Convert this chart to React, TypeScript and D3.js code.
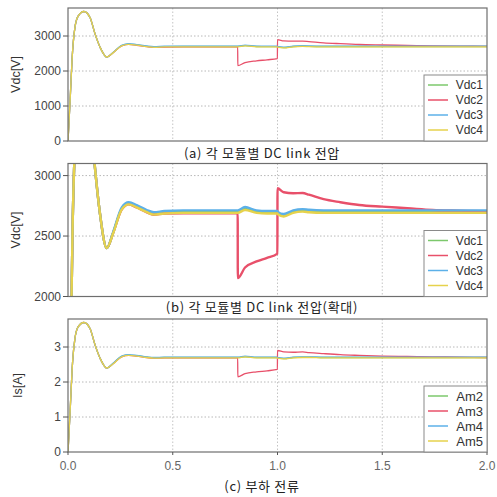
import React from 'react';
import * as d3 from 'd3';

// sample times [s], shared by every trace
const time = [0, 0.01, 0.022, 0.033, 0.049, 0.076, 0.105, 0.129, 0.153, 0.185, 0.216, 0.256, 0.29, 0.328, 0.376, 0.41, 0.46, 0.55, 0.7, 0.81, 0.8105, 0.845, 0.9, 0.95, 0.9995, 1.0, 1.03, 1.075, 1.12, 1.15, 1.22, 1.3, 1.39, 1.5, 1.62, 1.74, 1.87, 2.0];

// DC link voltages [V]
const vdc1 = [0, 1160, 2580, 3240, 3575, 3700, 3530, 3060, 2680, 2400, 2530, 2725, 2770, 2745, 2705, 2685, 2695, 2700, 2700, 2700, 2700, 2725, 2700, 2695, 2695, 2690, 2670, 2700, 2710, 2705, 2700, 2700, 2700, 2700, 2700, 2700, 2700, 2700];
const vdc2 = [0, 1160, 2580, 3240, 3575, 3700, 3530, 3060, 2680, 2400, 2528, 2718, 2762, 2736, 2696, 2676, 2686, 2689, 2689, 2689, 2152, 2240, 2290, 2320, 2355, 2895, 2862, 2854, 2856, 2842, 2805, 2780, 2757, 2743, 2730, 2716, 2710, 2705];
const vdc3 = [0, 1160, 2580, 3240, 3575, 3700, 3530, 3060, 2680, 2400, 2535, 2735, 2780, 2755, 2715, 2697, 2707, 2712, 2712, 2712, 2712, 2740, 2712, 2707, 2707, 2702, 2682, 2712, 2722, 2717, 2712, 2712, 2712, 2712, 2712, 2712, 2712, 2712];
const vdc4 = [0, 1160, 2580, 3240, 3575, 3700, 3530, 3060, 2680, 2400, 2525, 2718, 2762, 2737, 2697, 2677, 2687, 2692, 2692, 2692, 2692, 2716, 2692, 2687, 2687, 2682, 2662, 2692, 2702, 2697, 2692, 2692, 2692, 2692, 2692, 2692, 2692, 2692];

// load currents [A]
const am2 = [0, 1.16, 2.58, 3.24, 3.58, 3.7, 3.53, 3.06, 2.68, 2.4, 2.53, 2.73, 2.77, 2.75, 2.71, 2.69, 2.7, 2.7, 2.7, 2.7, 2.7, 2.72, 2.7, 2.7, 2.7, 2.69, 2.67, 2.7, 2.71, 2.71, 2.7, 2.7, 2.7, 2.7, 2.7, 2.7, 2.7, 2.7];
const am3 = [0, 1.16, 2.58, 3.24, 3.58, 3.7, 3.53, 3.06, 2.68, 2.4, 2.53, 2.72, 2.76, 2.74, 2.7, 2.68, 2.69, 2.69, 2.69, 2.69, 2.15, 2.24, 2.29, 2.32, 2.36, 2.9, 2.86, 2.85, 2.86, 2.84, 2.81, 2.78, 2.76, 2.74, 2.73, 2.72, 2.71, 2.7];
const am4 = [0, 1.16, 2.58, 3.24, 3.58, 3.7, 3.53, 3.06, 2.68, 2.4, 2.54, 2.74, 2.78, 2.76, 2.72, 2.7, 2.71, 2.71, 2.71, 2.71, 2.71, 2.74, 2.71, 2.71, 2.71, 2.7, 2.68, 2.71, 2.72, 2.72, 2.71, 2.71, 2.71, 2.71, 2.71, 2.71, 2.71, 2.71];
const am5 = [0, 1.16, 2.58, 3.24, 3.58, 3.7, 3.53, 3.06, 2.68, 2.4, 2.52, 2.72, 2.76, 2.74, 2.7, 2.68, 2.69, 2.69, 2.69, 2.69, 2.69, 2.72, 2.69, 2.69, 2.69, 2.68, 2.66, 2.69, 2.7, 2.7, 2.69, 2.69, 2.69, 2.69, 2.69, 2.69, 2.69, 2.69];

const xTicks = [0, 0.5, 1.0, 1.5, 2.0];
const vdcTicks = [0, 1000, 2000, 3000];
const vdcZoomTicks = [2000, 2500, 3000];
const isTicks = [0, 1, 2, 3];

const vdcNames = ['Vdc1', 'Vdc2', 'Vdc3', 'Vdc4'];
const ampNames = ['Am2', 'Am3', 'Am4', 'Am5'];
const colors = ['#7cc86c', '#e8506a', '#5cb0e8', '#e6d24c'];

const LEFT = 68;
const RIGHT = 487;
const H = 133;
const NUM_FONT = '"Liberation Sans", Arial, sans-serif';
const KR_FONT = '"Noto Sans CJK KR", "Liberation Sans", sans-serif';

function Panel(props: any) {
  const { id, top, yDomain, yTicks, series, names, label, caption, strokeWidth, showX, legendFont } = props;
  const x = d3.scaleLinear().domain([0, 2]).range([LEFT, RIGHT]);
  const y = d3.scaleLinear().domain(yDomain).range([top + H, top]);
  const line = d3.line<number>()
    .x((d, i) => x(time[i]))
    .y(d => y(d))
    .curve(d3.curveMonotoneX);

  const legW = 63;
  const rowH = 15;
  const legH = rowH * names.length + 6;
  const legX = RIGHT - legW;
  const legY = top + H - legH;

  return (
    <g>
      <defs>
        <clipPath id={id}>
          <rect x={LEFT} y={top} width={RIGHT - LEFT} height={H} />
        </clipPath>
      </defs>
      <rect x={LEFT} y={top} width={RIGHT - LEFT} height={H} fill="#fff" />
      {/* grid */}
      {xTicks.slice(1, -1).map(t => (
        <line key={'gx' + t} x1={x(t)} x2={x(t)} y1={top} y2={top + H}
          stroke="#c4c4c4" strokeDasharray="1.5,2" />
      ))}
      {yTicks.filter((t: number) => y(t) > top + 2 && y(t) < top + H - 2).map((t: number) => (
        <line key={'gy' + t} x1={LEFT} x2={RIGHT} y1={y(t)} y2={y(t)}
          stroke="#b8b8b8" strokeDasharray="1.5,2" />
      ))}
      {/* traces */}
      <g clipPath={`url(#${id})`}>
        {series.map((s: number[], i: number) => (
          <path key={i} d={line(s) || ''} fill="none" stroke={colors[i]}
            strokeWidth={strokeWidth} strokeLinejoin="round" />
        ))}
      </g>
      <rect x={LEFT} y={top} width={RIGHT - LEFT} height={H} fill="none" stroke="#6e6e6e" strokeWidth={1.2} />
      {/* y axis */}
      {yTicks.map((t: number) => (
        <g key={'yt' + t}>
          <line x1={LEFT - 5} x2={LEFT} y1={y(t)} y2={y(t)} stroke="#555" />
          <text x={LEFT - 7} y={y(t)} dy="0.35em" textAnchor="end" fontSize={12}
            fontFamily={NUM_FONT} fill="#444">{t}</text>
        </g>
      ))}
      <text transform={`translate(${label.x},${top + H / 2}) rotate(-90)`} textAnchor="middle"
        dy="0.35em" fontSize={12.5} fontFamily={NUM_FONT} fill="#333">{label.text}</text>
      {/* x axis */}
      {showX && xTicks.map(t => (
        <g key={'xt' + t}>
          <line x1={x(t)} x2={x(t)} y1={top + H} y2={top + H + 3} stroke="#555" />
          <text x={x(t)} y={top + H + 14} dy="0.35em" textAnchor="middle" fontSize={12}
            fontFamily={NUM_FONT} fill="#666">{d3.format('.1f')(t)}</text>
        </g>
      ))}
      {/* legend */}
      <rect x={legX} y={legY} width={legW} height={legH} fill="#fff" stroke="#8a8a8a" />
      {names.map((n: string, i: number) => {
        const ry = legY + 10 + i * rowH;
        return (
          <g key={n}>
            <line x1={legX + 4} x2={legX + 24} y1={ry} y2={ry} stroke={colors[i]} strokeWidth={1.5} />
            <text x={RIGHT - 4} y={ry} dy="0.35em" textAnchor="end" fontSize={legendFont}
              fontFamily={NUM_FONT} fill="#333">{n}</text>
          </g>
        );
      })}
      <text x={262} y={caption.y} dy="0.35em" textAnchor="middle" fontSize={13}
        letterSpacing={0.7} fontFamily={KR_FONT} fill="#222">{caption.text}</text>
    </g>
  );
}

export default function App() {
  return (
    <svg width={497} height={497} style={{ position: 'absolute', left: 0, top: 0, background: '#fff' }}>
      <rect width={497} height={497} fill="#fff" />
      <Panel id="clipA" top={8} yDomain={[0, 3800]} yTicks={vdcTicks}
        series={[vdc1, vdc2, vdc3, vdc4]} names={vdcNames}
        label={{ x: 16, text: 'Vdc[V]' }} caption={{ y: 153, text: '(a) 각 모듈별 DC link 전압' }}
        strokeWidth={1.3} showX={false} legendFont={12} />
      <Panel id="clipB" top={163.5} yDomain={[2000, 3100]} yTicks={vdcZoomTicks}
        series={[vdc1, vdc2, vdc3, vdc4]} names={vdcNames}
        label={{ x: 16, text: 'Vdc[V]' }} caption={{ y: 307, text: '(b) 각 모듈별 DC link 전압(확대)' }}
        strokeWidth={2.4} showX={false} legendFont={12} />
      <Panel id="clipC" top={319} yDomain={[0, 3.8]} yTicks={isTicks}
        series={[am2, am3, am4, am5]} names={ampNames}
        label={{ x: 18, text: 'Is[A]' }} caption={{ y: 486, text: '(c) 부하 전류' }}
        strokeWidth={1.3} showX={true} legendFont={13} />
    </svg>
  );
}
